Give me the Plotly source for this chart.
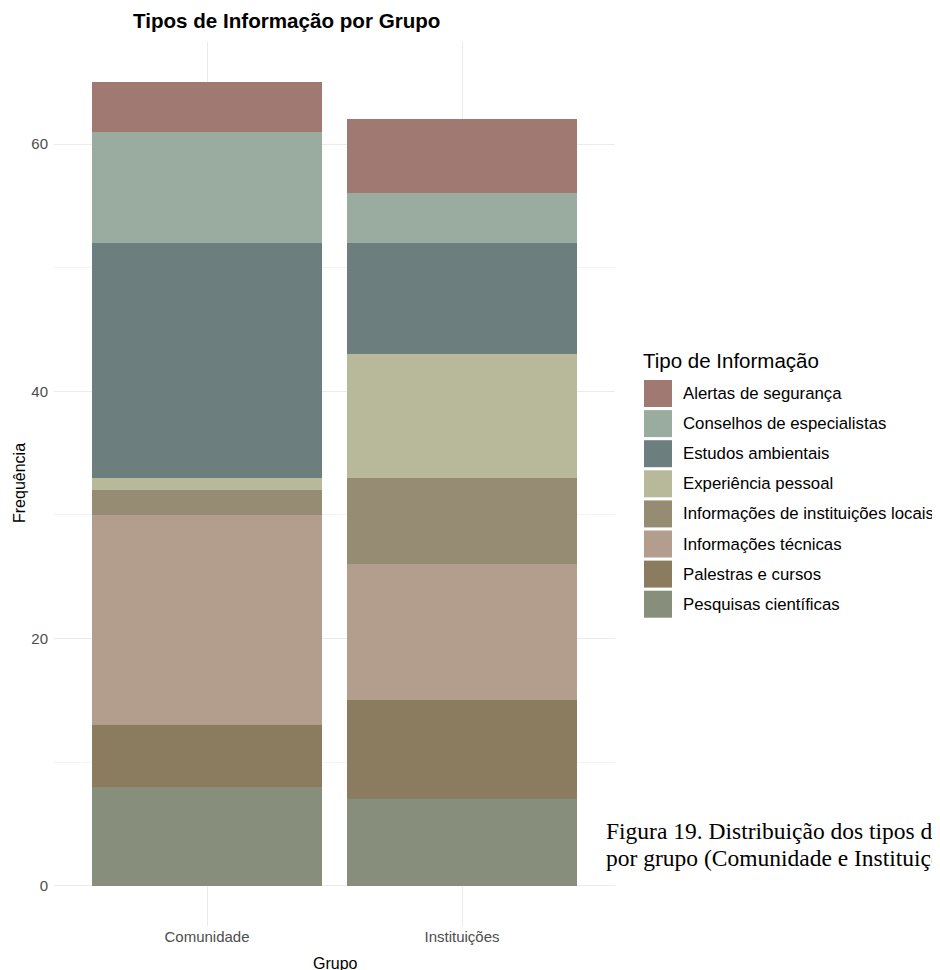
import plotly.graph_objects as go

groups = ["Comunidade", "Instituições"]
categories = [
    "Alertas de segurança",
    "Conselhos de especialistas",
    "Estudos ambientais",
    "Experiência pessoal",
    "Informações de instituições locais",
    "Informações técnicas",
    "Palestras e cursos",
    "Pesquisas científicas",
]
values_comunidade = [4, 9, 19, 1, 2, 17, 5, 8]
values_instituicoes = [6, 4, 9, 10, 7, 11, 8, 7]
colors = ["#A07A72", "#9AABA0", "#6C7E7E", "#B8B89A", "#968B73", "#B39D8C", "#8B7B5F", "#878F7C"]
y_ticks = [0, 20, 40, 60]
caption_lines = ["Figura 19. Distribuição dos tipos de informação",
                 "por grupo (Comunidade e Instituições)"]

# page offset of 8px (body margin) -> figure is 932x962
OFF = 8
W, H = 940 - OFF, 970 - OFF
PL, PT, PR, PB = 54, 42, 615, 926  # plot area in page pixels
pw, ph = PR - PL, PB - PT
L, T = PL - OFF, PT - OFF
R, B = W - L - pw, H - T - ph

def px(x):
    return (x - PL) / pw

def py(y):
    return (PB - y) / ph

fig = go.Figure()
for i in reversed(range(len(categories))):
    fig.add_trace(go.Bar(
        x=groups,
        y=[values_comunidade[i], values_instituicoes[i]],
        name=categories[i],
        marker=dict(color=colors[i], line=dict(width=0)),
        width=0.9,
        showlegend=False,
    ))

font_sans = "Liberation Sans, Arial, sans-serif"
shapes = []
annotations = []
annotations.append(dict(x=px(641), y=py(360), xref="paper", yref="paper", text="Tipo de Informação",
                        showarrow=False, xanchor="left", yanchor="middle",
                        font=dict(family=font_sans, size=20.5, color="#000000")))
for k, (cat, col) in enumerate(zip(categories, colors)):
    cy = 393.5 + 30.1 * k
    shapes.append(dict(type="rect", xref="paper", yref="paper",
                       x0=px(644), x1=px(672), y0=py(cy - 13.5), y1=py(cy + 13.5),
                       fillcolor=col, line=dict(width=0)))
    annotations.append(dict(x=px(681), y=py(cy), xref="paper", yref="paper", text=cat,
                            showarrow=False, xanchor="left", yanchor="middle",
                            font=dict(family=font_sans, size=16.8, color="#000000")))
annotations.append(dict(x=px(286), y=py(20), xref="paper", yref="paper",
                        text="<b>Tipos de Informação por Grupo</b>", showarrow=False,
                        xanchor="center", yanchor="middle",
                        font=dict(family=font_sans, size=20.6, color="#000000")))
annotations.append(dict(x=px(335), y=py(963), xref="paper", yref="paper", text="Grupo",
                        showarrow=False, xanchor="center", yanchor="middle",
                        font=dict(family=font_sans, size=16, color="#000000")))
annotations.append(dict(x=px(19), y=py(483), xref="paper", yref="paper", text="Frequência",
                        showarrow=False, textangle=-90, xanchor="center", yanchor="middle",
                        font=dict(family=font_sans, size=16, color="#000000")))
for j, line in enumerate(caption_lines):
    annotations.append(dict(x=px(604), y=py(831 + 27 * j), xref="paper", yref="paper",
                            text=line, showarrow=False, xanchor="left", yanchor="middle",
                            font=dict(family="Liberation Serif, Times New Roman, serif",
                                      size=23.5, color="#000000")))

fig.update_layout(
    width=W, height=H,
    margin=dict(l=L, r=R, t=T, b=B),
    barmode="stack",
    bargap=0.1,
    plot_bgcolor="white",
    paper_bgcolor="white",
    showlegend=False,
    shapes=shapes,
    annotations=annotations,
    font=dict(family=font_sans),
)
fig.update_xaxes(
    range=[-0.6, 1.6],
    showgrid=True, gridcolor="#EBEBEB", gridwidth=1,
    showline=False, zeroline=False, ticks="",
    tickfont=dict(family=font_sans, size=15, color="#4D4D4D"),
)
fig.update_yaxes(
    range=[-3.25, 68.25],
    tickvals=y_ticks,
    showgrid=True, gridcolor="#EBEBEB", gridwidth=1,
    minor=dict(tickvals=[10, 30, 50], showgrid=True, gridcolor="#F4F4F4", gridwidth=1, ticks=""),
    showline=False, zeroline=False, ticks="",
    ticklabelstandoff=5,
    tickfont=dict(family=font_sans, size=15, color="#4D4D4D"),
)

fig.write_html("out.html")
